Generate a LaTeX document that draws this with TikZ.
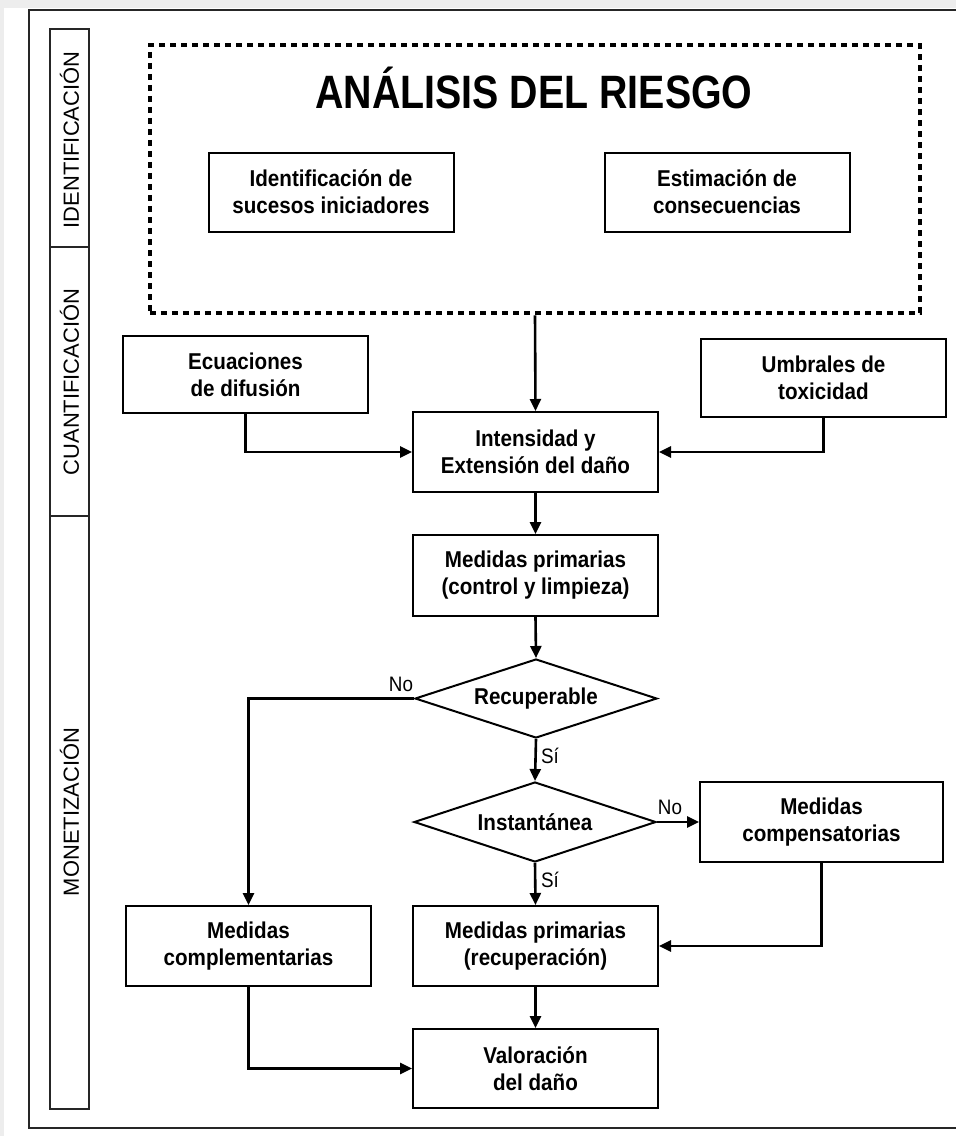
\documentclass[tikz,border=0pt]{standalone}
\usepackage{fontspec}
\setmainfont{Liberation Sans}
\newfontfamily\narrowfont[FakeStretch=0.9]{Liberation Sans}
\newfontfamily\titlefont[FakeStretch=0.84]{Liberation Sans}
\usetikzlibrary{arrows.meta,shapes.geometric}
\begin{document}
\begin{tikzpicture}[x=1bp,y=-1bp,
  stepbox/.style={draw=black, line width=2bp, minimum width=245bp, minimum height=79bp, inner sep=0pt, align=center,
    font=\narrowfont\bfseries\fontsize{23}{27}\selectfont},
  decision/.style={draw=black, line width=2bp, diamond, aspect=3, minimum width=242bp, minimum height=79bp, inner sep=0pt,
    font=\narrowfont\bfseries\fontsize{23}{27}\selectfont},
  conn/.style={line width=2.6bp, -{Triangle[length=12bp,width=11bp]}},
  lbl/.style={font=\narrowfont\fontsize{21}{24}\selectfont, inner sep=0pt},
  phase/.style={rotate=90, font=\fontsize{22}{24}\selectfont, inner sep=0pt},
  framestyle/.style={draw=black!85, line width=1.6bp},
  dotbox/.style={draw=black, line width=4.5bp, dash pattern=on 6bp off 5bp, minimum width=770bp, minimum height=268bp, inner sep=0pt}
]
\useasboundingbox (0,0) rectangle (956,1136);
\fill[black!7] (0,0) rectangle (956,1136);
\fill[white] (4,8) rectangle (956,1136);
% outer frame (open on the right)
\draw[framestyle] (956,10) -- (29,10) -- (29,1128) -- (956,1128);
% phase band
\draw[framestyle] (50,29) rectangle (89,1109);
\draw[framestyle] (50,247) -- (89,247);
\draw[framestyle] (50,516) -- (89,516);
\node[phase] (ph1) at (69.5,140) {IDENTIFICACIÓN};
\node[phase] (ph2) at (69.5,382) {CUANTIFICACIÓN};
\node[phase] (ph3) at (69.5,812) {MONETIZACIÓN};
% risk analysis block
\node[dotbox] (risk) at (535,179) {};
\node[font=\titlefont\bfseries\fontsize{47}{50}\selectfont, inner sep=0pt] (title) at (534,88) {ANÁLISIS DEL RIESGO};
\node[stepbox] (ident) at (331,192) {Identificación de\\sucesos iniciadores};
\node[stepbox] (estim) at (727,192) {Estimación de\\consecuencias};
% quantification
\node[stepbox, minimum height=77bp] (ecu) at (245.5,374.5) {Ecuaciones\\de difusión};
\node[stepbox, minimum height=78bp] (umb) at (823.5,378) {Umbrales de\\toxicidad};
\node[stepbox, minimum height=80bp] (int) at (535.5,452) {Intensidad y\\Extensión del daño};
\node[stepbox, minimum height=81bp] (mp1) at (535.5,575.5) {Medidas primarias\\(control y limpieza)};
% decisions
\node[decision] (rec) at (536,698.5) {Recuperable};
\node[decision, minimum height=80bp] (inst) at (535,822) {Instantánea};
\node[stepbox, minimum width=243bp, minimum height=80bp] (cps) at (821.5,822) {Medidas\\compensatorias};
\node[stepbox, minimum height=80bp] (mpr) at (535.5,946) {Medidas primarias\\(recuperación)};
\node[stepbox, minimum height=80bp] (comp) at (248.5,946) {Medidas\\complementarias};
\node[stepbox, minimum height=79bp] (val) at (535.5,1068.5) {Valoración\\del daño};
% connectors
\draw[conn] (risk.south) -- (int.north);
\draw[conn] (ecu.south) |- (int.west);
\draw[conn] (umb.south) |- (int.east);
\draw[conn] (int.south) -- (mp1.north);
\draw[conn] (mp1.south) -- (rec.north);
\draw[conn] (rec.west) -| (comp.north);
\draw[conn] (rec.south) -- (inst.north);
\draw[conn] (inst.east) -- (cps.west);
\draw[conn] (inst.south) -- (mpr.north);
\draw[conn] (cps.south) |- (mpr.east);
\draw[conn] (mpr.south) -- (val.north);
\draw[conn] (comp.south) |- (val.west);
% labels
\node[lbl] (no1) at (401,684) {No};
\node[lbl] (si1) at (550,756) {Sí};
\node[lbl] (no2) at (670,807) {No};
\node[lbl] (si2) at (550,880) {Sí};
\end{tikzpicture}
\end{document}
